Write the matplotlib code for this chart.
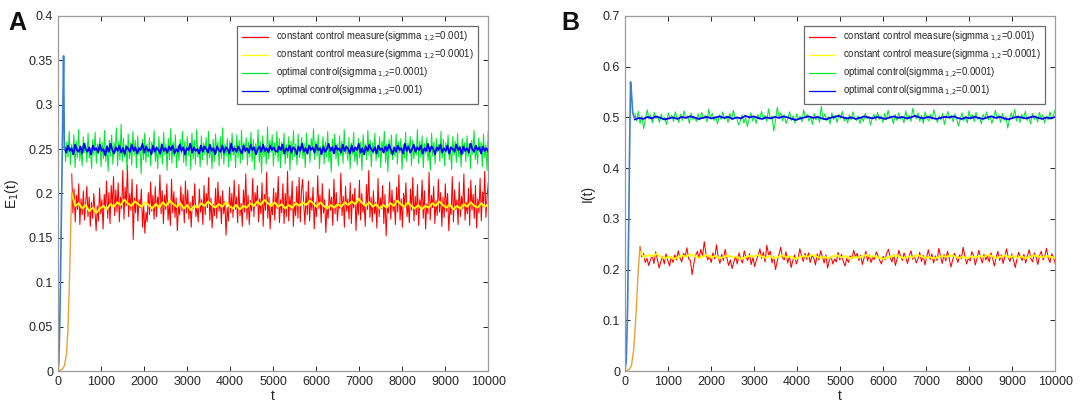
import numpy as np
import matplotlib
matplotlib.use("Agg")
import matplotlib.pyplot as plt
from matplotlib.ticker import FuncFormatter, MultipleLocator

plt.rcParams['font.family'] = ['Liberation Sans', 'DejaVu Sans']

# ---- panel A : E1(t) ----
# start-up parts (drawn in the default MATLAB colours)
tA_opt_start = [0, 20, 40, 60, 80, 100, 120, 130, 140, 150]
eA_opt_start = [0, 0.01, 0.05, 0.11, 0.18, 0.25, 0.32, 0.355, 0.30, 0.25]
tA_const_start = [0, 100, 150, 200, 230, 260, 280, 300, 320]
eA_const_start = [0, 0.002, 0.006, 0.02, 0.045, 0.09, 0.13, 0.17, 0.20]

green_A = [
    0.262, 0.236, 0.258, 0.241, 0.27, 0.232, 0.255, 0.244, 0.266, 0.229, 0.259, 0.24, 0.272, 0.237, 0.252, 0.231, 0.264, 0.246, 0.257, 0.235,
    0.268, 0.24, 0.25, 0.228, 0.261, 0.243, 0.269, 0.234, 0.256, 0.245, 0.263, 0.23, 0.258, 0.239, 0.271, 0.236, 0.254, 0.225, 0.26, 0.242,
    0.266, 0.233, 0.257, 0.247, 0.274, 0.231, 0.259, 0.238, 0.278, 0.236, 0.262, 0.241, 0.255, 0.226, 0.267, 0.239, 0.257, 0.232, 0.27, 0.243,
    0.26, 0.229, 0.265, 0.244, 0.253, 0.222, 0.261, 0.238, 0.268, 0.235, 0.256, 0.241, 0.263, 0.231, 0.258, 0.245, 0.271, 0.236, 0.252, 0.228,
    0.264, 0.24, 0.257, 0.233, 0.269, 0.244, 0.255, 0.226, 0.262, 0.238, 0.273, 0.234, 0.258, 0.242, 0.266, 0.229, 0.254, 0.237, 0.261, 0.245,
    0.27, 0.235, 0.259, 0.231, 0.264, 0.243, 0.256, 0.227, 0.268, 0.239, 0.26, 0.233, 0.272, 0.241, 0.253, 0.23, 0.265, 0.238, 0.257, 0.244,
    0.263, 0.232, 0.27, 0.24, 0.255, 0.228, 0.261, 0.236, 0.267, 0.245, 0.258, 0.231, 0.264, 0.239, 0.274, 0.233, 0.256, 0.242, 0.262, 0.23,
    0.259, 0.237, 0.268, 0.243, 0.254, 0.229, 0.266, 0.24, 0.26, 0.234, 0.271, 0.238, 0.257, 0.246, 0.263, 0.232, 0.258, 0.241, 0.269, 0.236,
    0.261, 0.227, 0.256, 0.244, 0.272, 0.235, 0.258, 0.223, 0.265, 0.241, 0.254, 0.233, 0.275, 0.239, 0.26, 0.246, 0.266, 0.231, 0.257, 0.243,
    0.27, 0.236, 0.262, 0.229, 0.258, 0.244, 0.268, 0.233, 0.255, 0.24, 0.264, 0.226, 0.259, 0.238, 0.271, 0.242, 0.256, 0.232, 0.267, 0.24,
    0.248, 0.263, 0.239, 0.257, 0.229, 0.268, 0.244, 0.255, 0.235, 0.262, 0.25, 0.273, 0.238, 0.259, 0.242, 0.266, 0.228, 0.253, 0.246, 0.264,
    0.233, 0.258, 0.241, 0.27, 0.236, 0.252, 0.224, 0.261, 0.247, 0.267, 0.239, 0.256, 0.231, 0.265, 0.243, 0.259, 0.234, 0.272, 0.245, 0.254,
    0.237, 0.263, 0.228, 0.257, 0.244, 0.269, 0.236, 0.251, 0.232, 0.262, 0.24, 0.258, 0.226, 0.266, 0.248, 0.255, 0.238, 0.271, 0.243, 0.26,
    0.23, 0.257, 0.245, 0.268, 0.237, 0.253, 0.241, 0.264, 0.229, 0.259, 0.247, 0.27, 0.235, 0.256, 0.224, 0.261, 0.244, 0.266, 0.238, 0.252,
    0.242, 0.267, 0.233, 0.258, 0.246, 0.262, 0.227, 0.255, 0.24, 0.269, 0.236, 0.257, 0.248, 0.264, 0.231, 0.26, 0.239, 0.253, 0.243, 0.272,
    0.234, 0.259, 0.241, 0.265, 0.229, 0.256, 0.245, 0.263, 0.237, 0.25, 0.226, 0.268, 0.242, 0.258, 0.233, 0.262, 0.247, 0.255, 0.236, 0.27,
    0.24, 0.261, 0.231, 0.257, 0.246, 0.266, 0.238, 0.253, 0.227, 0.264, 0.243, 0.259, 0.235, 0.268, 0.241, 0.254, 0.23, 0.262, 0.245, 0.257,
    0.236, 0.265, 0.242, 0.256, 0.228, 0.26, 0.244, 0.271, 0.238, 0.252, 0.233, 0.263, 0.247, 0.258, 0.23, 0.267, 0.24, 0.255, 0.226, 0.27,
]
blue_A = [
    0.252, 0.246, 0.254, 0.248, 0.251, 0.244, 0.255, 0.249, 0.247, 0.253, 0.245, 0.256, 0.25, 0.247, 0.252, 0.244, 0.254, 0.249, 0.251, 0.246,
    0.255, 0.248, 0.25, 0.243, 0.253, 0.247, 0.256, 0.249, 0.245, 0.252, 0.248, 0.254, 0.246, 0.251, 0.244, 0.253, 0.25, 0.247, 0.255, 0.248,
    0.252, 0.245, 0.251, 0.249, 0.256, 0.246, 0.253, 0.248, 0.25, 0.244, 0.254, 0.247, 0.252, 0.249, 0.245, 0.255, 0.248, 0.251, 0.246, 0.253,
    0.249, 0.254, 0.245, 0.25, 0.247, 0.255, 0.248, 0.252, 0.244, 0.251, 0.249, 0.256, 0.246, 0.252, 0.248, 0.25, 0.245, 0.254, 0.247, 0.253,
    0.25, 0.246, 0.255, 0.248, 0.251, 0.244, 0.253, 0.249, 0.247, 0.254, 0.246, 0.252, 0.25, 0.245, 0.256, 0.248, 0.251, 0.247, 0.253, 0.249,
    0.245, 0.254, 0.248, 0.251, 0.246, 0.255, 0.249, 0.252, 0.244, 0.25, 0.253, 0.247, 0.255, 0.248, 0.251, 0.246, 0.254, 0.249, 0.252, 0.248,
    0.247, 0.253, 0.249, 0.255, 0.245, 0.251, 0.248, 0.254, 0.246, 0.252, 0.25, 0.244, 0.253, 0.248, 0.256, 0.247, 0.251, 0.245, 0.254, 0.249,
    0.252, 0.246, 0.255, 0.249, 0.251, 0.244, 0.253, 0.247, 0.25, 0.256, 0.248, 0.252, 0.245, 0.254, 0.249, 0.251, 0.246, 0.255, 0.248, 0.253,
    0.25, 0.245, 0.254, 0.247, 0.252, 0.249, 0.256, 0.246, 0.251, 0.244, 0.253, 0.248, 0.255, 0.25, 0.247, 0.252, 0.245, 0.254, 0.249, 0.251,
    0.246, 0.253, 0.248, 0.255, 0.25, 0.244, 0.252, 0.247, 0.254, 0.249, 0.251, 0.245, 0.256, 0.248, 0.253, 0.246, 0.25, 0.255, 0.247, 0.252,
    0.249, 0.254, 0.245, 0.251, 0.248, 0.256, 0.247, 0.253, 0.25, 0.244, 0.252, 0.249, 0.255, 0.246, 0.251, 0.248, 0.254, 0.245, 0.252, 0.25,
    0.247, 0.255, 0.249, 0.252, 0.244, 0.253, 0.248, 0.251, 0.246, 0.256, 0.25, 0.247, 0.254, 0.249, 0.252, 0.245, 0.253, 0.248, 0.251, 0.247,
]
red_A = [
    0.222, 0.178, 0.205, 0.168, 0.198, 0.182, 0.211, 0.165, 0.194, 0.176, 0.203, 0.17, 0.189, 0.208, 0.174, 0.196, 0.163, 0.19, 0.172, 0.2,
    0.181, 0.158, 0.186, 0.169, 0.206, 0.177, 0.193, 0.16, 0.199, 0.183, 0.214, 0.172, 0.201, 0.166, 0.209, 0.185, 0.219, 0.175, 0.204, 0.179,
    0.212, 0.168, 0.196, 0.183, 0.226, 0.171, 0.207, 0.186, 0.232, 0.174, 0.2, 0.181, 0.216, 0.148, 0.195, 0.178, 0.21, 0.169, 0.193, 0.184,
    0.205, 0.162, 0.187, 0.155, 0.179, 0.168, 0.201, 0.176, 0.213, 0.18, 0.198, 0.171, 0.208, 0.174, 0.196, 0.187, 0.221, 0.177, 0.203, 0.166,
    0.198, 0.182, 0.211, 0.17, 0.189, 0.164, 0.216, 0.178, 0.202, 0.173, 0.195, 0.158, 0.185, 0.176, 0.208, 0.18, 0.199, 0.167, 0.214, 0.178,
    0.204, 0.171, 0.19, 0.162, 0.197, 0.183, 0.211, 0.174, 0.186, 0.168, 0.205, 0.179, 0.193, 0.165, 0.209, 0.176, 0.2, 0.184, 0.218, 0.17,
    0.195, 0.161, 0.188, 0.175, 0.206, 0.172, 0.213, 0.18, 0.197, 0.166, 0.203, 0.177, 0.191, 0.153, 0.184, 0.169, 0.207, 0.178, 0.2, 0.173,
    0.215, 0.182, 0.196, 0.167, 0.21, 0.175, 0.189, 0.163, 0.204, 0.179, 0.222, 0.171, 0.198, 0.165, 0.192, 0.18, 0.217, 0.174, 0.201, 0.186,
    0.209, 0.168, 0.194, 0.177, 0.212, 0.163, 0.199, 0.181, 0.224, 0.172, 0.196, 0.16, 0.188, 0.176, 0.206, 0.17, 0.201, 0.183, 0.219, 0.167,
    0.193, 0.178, 0.211, 0.166, 0.2, 0.174, 0.225, 0.169, 0.197, 0.181, 0.214, 0.163, 0.19, 0.175, 0.208, 0.172, 0.218, 0.168, 0.203, 0.216,
    0.187, 0.165, 0.202, 0.176, 0.214, 0.169, 0.195, 0.181, 0.207, 0.16, 0.19, 0.174, 0.22, 0.183, 0.198, 0.167, 0.211, 0.178, 0.193, 0.156,
    0.185, 0.172, 0.205, 0.181, 0.196, 0.164, 0.216, 0.177, 0.201, 0.169, 0.189, 0.183, 0.223, 0.175, 0.197, 0.162, 0.208, 0.18, 0.194, 0.171,
    0.212, 0.166, 0.199, 0.184, 0.206, 0.158, 0.192, 0.176, 0.215, 0.17, 0.2, 0.179, 0.188, 0.163, 0.21, 0.182, 0.226, 0.173, 0.196, 0.168,
    0.203, 0.177, 0.19, 0.161, 0.217, 0.174, 0.195, 0.183, 0.209, 0.166, 0.199, 0.152, 0.186, 0.178, 0.213, 0.171, 0.204, 0.18, 0.192, 0.165,
    0.207, 0.179, 0.221, 0.17, 0.194, 0.162, 0.2, 0.185, 0.212, 0.174, 0.189, 0.167, 0.205, 0.181, 0.218, 0.169, 0.197, 0.176, 0.21, 0.164,
    0.193, 0.182, 0.215, 0.172, 0.203, 0.16, 0.188, 0.177, 0.224, 0.17, 0.198, 0.184, 0.208, 0.166, 0.192, 0.175, 0.216, 0.179, 0.201, 0.163,
    0.196, 0.173, 0.211, 0.18, 0.2, 0.158, 0.185, 0.176, 0.219, 0.168, 0.204, 0.182, 0.193, 0.165, 0.213, 0.174, 0.197, 0.183, 0.222, 0.17,
    0.19, 0.177, 0.206, 0.164, 0.215, 0.181, 0.199, 0.172, 0.209, 0.161, 0.194, 0.178, 0.217, 0.169, 0.202, 0.185, 0.225, 0.173, 0.196, 0.212,
]
yellow_A = [
    0.2, 0.186, 0.189, 0.183, 0.187, 0.18, 0.184, 0.178, 0.183, 0.186, 0.182, 0.188, 0.185, 0.19, 0.187, 0.193, 0.189, 0.186, 0.191, 0.188,
    0.185, 0.19, 0.187, 0.183, 0.188, 0.184, 0.19, 0.186, 0.192, 0.188, 0.185, 0.189, 0.183, 0.187, 0.181, 0.186, 0.184, 0.189, 0.186, 0.191,
    0.187, 0.184, 0.188, 0.185, 0.19, 0.186, 0.183, 0.187, 0.182, 0.186, 0.184, 0.189, 0.186, 0.191, 0.187, 0.193, 0.189, 0.186, 0.19, 0.185,
    0.188, 0.183, 0.187, 0.184, 0.189, 0.186, 0.19, 0.187, 0.192, 0.189, 0.185, 0.19, 0.186, 0.183, 0.187, 0.184, 0.188, 0.185, 0.19, 0.187,
    0.191, 0.188, 0.194, 0.189, 0.186, 0.19, 0.185, 0.188, 0.183, 0.187, 0.184, 0.189, 0.186, 0.192, 0.188, 0.185, 0.19, 0.186, 0.183, 0.187,
    0.182, 0.186, 0.184, 0.189, 0.186, 0.191, 0.187, 0.184, 0.188, 0.182, 0.186, 0.183, 0.188, 0.185, 0.19, 0.186, 0.184, 0.189, 0.185, 0.188,
]

# ---- panel B : I(t) ----
tB_opt_start = [0, 30, 60, 90, 110, 130, 150, 180, 210, 230]
iB_opt_start = [0, 0.02, 0.12, 0.3, 0.45, 0.57, 0.55, 0.51, 0.5, 0.5]
tB_const_start = [0, 100, 150, 200, 250, 280, 310, 340, 350]
iB_const_start = [0, 0.003, 0.01, 0.04, 0.1, 0.15, 0.2, 0.235, 0.245]

green_B = [
    0.508, 0.493, 0.512, 0.488, 0.503, 0.478, 0.496, 0.515, 0.497, 0.505, 0.489, 0.51, 0.498, 0.502, 0.49, 0.507, 0.495, 0.5, 0.486, 0.509,
    0.497, 0.504, 0.492, 0.511, 0.499, 0.49, 0.506, 0.494, 0.513, 0.498, 0.503, 0.488, 0.509, 0.496, 0.501, 0.492, 0.507, 0.495, 0.51, 0.498,
    0.504, 0.491, 0.516, 0.499, 0.508, 0.494, 0.502, 0.487, 0.505, 0.496, 0.511, 0.497, 0.503, 0.49, 0.508, 0.495, 0.514, 0.5, 0.498, 0.485,
    0.493, 0.505, 0.489, 0.499, 0.482, 0.497, 0.509, 0.493, 0.502, 0.488, 0.506, 0.496, 0.512, 0.499, 0.504, 0.492, 0.517, 0.497, 0.503, 0.473,
    0.495, 0.52, 0.501, 0.509, 0.493, 0.505, 0.488, 0.498, 0.511, 0.494, 0.503, 0.489, 0.507, 0.497, 0.502, 0.491, 0.515, 0.499, 0.506, 0.493,
    0.5, 0.486, 0.508, 0.495, 0.503, 0.49, 0.522, 0.497, 0.507, 0.494, 0.502, 0.487, 0.509, 0.496, 0.504, 0.49, 0.506, 0.498, 0.512, 0.493,
    0.501, 0.489, 0.505, 0.495, 0.511, 0.498, 0.494, 0.503, 0.488, 0.5, 0.492, 0.508, 0.497, 0.502, 0.485, 0.499, 0.506, 0.494, 0.51, 0.496,
    0.503, 0.49, 0.508, 0.495, 0.514, 0.498, 0.502, 0.487, 0.506, 0.494, 0.509, 0.497, 0.501, 0.489, 0.513, 0.496, 0.505, 0.492, 0.518, 0.503,
    0.497, 0.509, 0.492, 0.504, 0.488, 0.511, 0.499, 0.493, 0.506, 0.496, 0.515, 0.501, 0.49, 0.503, 0.495, 0.508, 0.486, 0.5, 0.512, 0.497,
    0.504, 0.491, 0.507, 0.498, 0.483, 0.496, 0.509, 0.494, 0.502, 0.489, 0.513, 0.499, 0.505, 0.492, 0.51, 0.496, 0.501, 0.487, 0.506, 0.498,
    0.511, 0.495, 0.503, 0.488, 0.5, 0.514, 0.497, 0.505, 0.49, 0.508, 0.494, 0.502, 0.479, 0.496, 0.509, 0.499, 0.516, 0.493, 0.504, 0.49,
    0.506, 0.497, 0.512, 0.494, 0.501, 0.487, 0.508, 0.496, 0.503, 0.491, 0.51, 0.498, 0.505, 0.489, 0.502, 0.495, 0.511, 0.497, 0.504, 0.515,
]
blue_B = [
    0.496, 0.499, 0.497, 0.501, 0.498, 0.502, 0.499, 0.496, 0.498, 0.5, 0.497, 0.501, 0.499, 0.502, 0.5, 0.497, 0.499, 0.501, 0.498, 0.5,
    0.502, 0.499, 0.501, 0.497, 0.5, 0.498, 0.503, 0.5, 0.502, 0.499, 0.497, 0.5, 0.498, 0.501, 0.499, 0.502, 0.5, 0.497, 0.495, 0.498,
    0.5, 0.502, 0.499, 0.501, 0.498, 0.496, 0.499, 0.501, 0.503, 0.5, 0.498, 0.5, 0.497, 0.499, 0.502, 0.5, 0.498, 0.501, 0.499, 0.497,
    0.5, 0.502, 0.499, 0.501, 0.498, 0.5, 0.503, 0.5, 0.498, 0.501, 0.499, 0.497, 0.499, 0.501, 0.5, 0.502, 0.499, 0.497, 0.5, 0.498,
    0.501, 0.499, 0.497, 0.5, 0.502, 0.499, 0.501, 0.498, 0.496, 0.499, 0.501, 0.5, 0.498, 0.5, 0.502, 0.499, 0.497, 0.5, 0.498, 0.501,
]
red_B = [
    0.245, 0.225, 0.232, 0.214, 0.222, 0.208, 0.219, 0.228, 0.212, 0.235, 0.22, 0.203, 0.216, 0.226, 0.211, 0.231, 0.218, 0.207, 0.225, 0.214,
    0.229, 0.219, 0.237, 0.223, 0.215, 0.232, 0.226, 0.243, 0.221, 0.218, 0.19, 0.212, 0.228, 0.236, 0.222, 0.24, 0.226, 0.255, 0.23, 0.219,
    0.227, 0.214, 0.233, 0.221, 0.249, 0.225, 0.212, 0.23, 0.218, 0.24, 0.223, 0.208, 0.219, 0.202, 0.215, 0.226, 0.211, 0.233, 0.22, 0.213,
    0.237, 0.225, 0.218, 0.231, 0.21, 0.224, 0.206, 0.219, 0.228, 0.241, 0.222, 0.234, 0.215, 0.248, 0.229, 0.236, 0.213, 0.225, 0.2, 0.217,
    0.23, 0.244, 0.224, 0.219, 0.235, 0.213, 0.226, 0.204, 0.218, 0.229, 0.211, 0.222, 0.241, 0.227, 0.216, 0.232, 0.22, 0.233, 0.214, 0.228,
    0.223, 0.209, 0.231, 0.219, 0.237, 0.225, 0.213, 0.229, 0.203, 0.218, 0.226, 0.211, 0.221, 0.215, 0.234, 0.219, 0.23, 0.216, 0.207, 0.222,
    0.214, 0.227, 0.221, 0.238, 0.225, 0.232, 0.218, 0.228, 0.21, 0.223, 0.236, 0.217, 0.229, 0.214, 0.224, 0.22, 0.235, 0.227, 0.218, 0.211,
    0.226, 0.219, 0.232, 0.24, 0.224, 0.215, 0.229, 0.208, 0.221, 0.238, 0.226, 0.218, 0.233, 0.223, 0.212, 0.228, 0.237, 0.22, 0.227, 0.213,
    0.221, 0.234, 0.216, 0.228, 0.209, 0.225, 0.239, 0.22, 0.231, 0.213, 0.227, 0.218, 0.242, 0.226, 0.212, 0.23, 0.217, 0.236, 0.222, 0.205,
    0.219, 0.232, 0.224, 0.214, 0.229, 0.221, 0.244, 0.226, 0.211, 0.223, 0.217, 0.235, 0.228, 0.209, 0.222, 0.238, 0.225, 0.213, 0.23, 0.219,
    0.227, 0.215, 0.233, 0.222, 0.207, 0.224, 0.236, 0.218, 0.229, 0.212, 0.226, 0.241, 0.223, 0.216, 0.231, 0.219, 0.204, 0.221, 0.234, 0.225,
    0.218, 0.23, 0.213, 0.227, 0.239, 0.222, 0.215, 0.233, 0.224, 0.21, 0.228, 0.236, 0.219, 0.226, 0.242, 0.223, 0.214, 0.231, 0.225, 0.212,
]
yellow_B = [
    0.235, 0.224, 0.229, 0.226, 0.231, 0.225, 0.222, 0.226, 0.221, 0.224, 0.228, 0.225, 0.23, 0.227, 0.223, 0.226, 0.229, 0.224, 0.227, 0.222,
    0.225, 0.228, 0.224, 0.226, 0.221, 0.224, 0.227, 0.225, 0.229, 0.226, 0.223, 0.227, 0.222, 0.225, 0.228, 0.224, 0.226, 0.221, 0.224, 0.227,
    0.225, 0.229, 0.226, 0.223, 0.225, 0.222, 0.226, 0.228, 0.224, 0.227, 0.222, 0.225, 0.223, 0.226, 0.229, 0.225, 0.227, 0.223, 0.221, 0.224,
    0.226, 0.228, 0.225, 0.222, 0.226, 0.224, 0.229, 0.226, 0.223, 0.225, 0.222, 0.224, 0.227, 0.225, 0.228, 0.226, 0.223, 0.225, 0.222, 0.226,
    0.224, 0.227, 0.225, 0.229, 0.226, 0.223, 0.225, 0.228, 0.224, 0.227, 0.223, 0.226, 0.222, 0.225, 0.228, 0.226, 0.224, 0.227, 0.225, 0.223,
]

labels = [
    r'constant control measure(sigmma$_{\ 1{,}2}$=0.001)',
    r'constant control measure(sigmma$_{\ 1{,}2}$=0.0001)',
    r'optimal control(sigmma$_{\ 1{,}2}$=0.0001)',
    r'optimal control(sigmma$_{\ 1{,}2}$=0.001)',
]
colors = ['#ff0000', '#ffff00', '#00e830', '#0000ff']
TEXT = '#262626'


def draw_panel(ax, t_opt0, y_opt0, t_con0, y_con0, red, yellow, green, blue,
               ymax, ystep, ylabel):
    t_con = t_con0[-1]
    t_opt = t_opt0[-1]
    ax.plot(np.linspace(t_con, 10000, len(red)), red, color=colors[0], lw=0.75, label=labels[0])
    ax.plot(np.linspace(t_con, 10000, len(yellow)), yellow, color=colors[1], lw=1.4, label=labels[1])
    ax.plot(np.linspace(t_opt, 10000, len(green)), green, color=colors[2], lw=0.75, label=labels[2])
    ax.plot(np.linspace(t_opt, 10000, len(blue)), blue, color=colors[3], lw=1.3, label=labels[3])
    ax.plot(t_con0, y_con0, color='#f0a030', lw=1.0)
    ax.plot(t_opt0, y_opt0, color='#3a7fd0', lw=1.2)

    ax.set_xlim(0, 10000)
    ax.set_ylim(0, ymax)
    ax.xaxis.set_major_locator(MultipleLocator(1000))
    ax.yaxis.set_major_locator(MultipleLocator(ystep))
    ax.yaxis.set_major_formatter(FuncFormatter(lambda v, p: '%g' % round(v, 3)))
    ax.tick_params(direction='in', top=True, right=True, labelsize=9,
                   colors=TEXT, length=3.5, width=0.7)
    for s in ax.spines.values():
        s.set_color('#9a9a9a')
        s.set_linewidth(0.9)
    ax.set_xlabel('t', fontsize=10, color=TEXT, labelpad=1)
    ax.set_ylabel(ylabel, fontsize=10, color=TEXT, labelpad=6)
    leg = ax.legend(loc='upper right', bbox_to_anchor=(0.977, 0.972), borderaxespad=0,
                    fontsize=6.9, fancybox=False, framealpha=1, edgecolor='#6a6a6a',
                    handlelength=2.8, handletextpad=0.8, labelspacing=0.3, borderpad=0.45)
    leg.get_frame().set_linewidth(0.9)
    for line in leg.get_lines():
        line.set_linewidth(0.9)
    for txt in leg.get_texts():
        txt.set_color(TEXT)


fig = plt.figure(figsize=(10.92, 4.03), dpi=100)
axA = fig.add_axes([0.0531, 0.0794, 0.394, 0.881])
axB = fig.add_axes([0.5723, 0.0794, 0.394, 0.881])

draw_panel(axA, tA_opt_start, eA_opt_start, tA_const_start, eA_const_start,
           red_A, yellow_A, green_A, blue_A, 0.4, 0.05, r'E$_1$(t)')
draw_panel(axB, tB_opt_start, iB_opt_start, tB_const_start, iB_const_start,
           red_B, yellow_B, green_B, blue_B, 0.7, 0.1, 'I(t)')

fig.text(0.008, 0.925, 'A', fontsize=18, fontweight='bold', color='#111111')
fig.text(0.514, 0.925, 'B', fontsize=18, fontweight='bold', color='#111111')

fig.savefig('out.png', dpi=100, facecolor='white')
